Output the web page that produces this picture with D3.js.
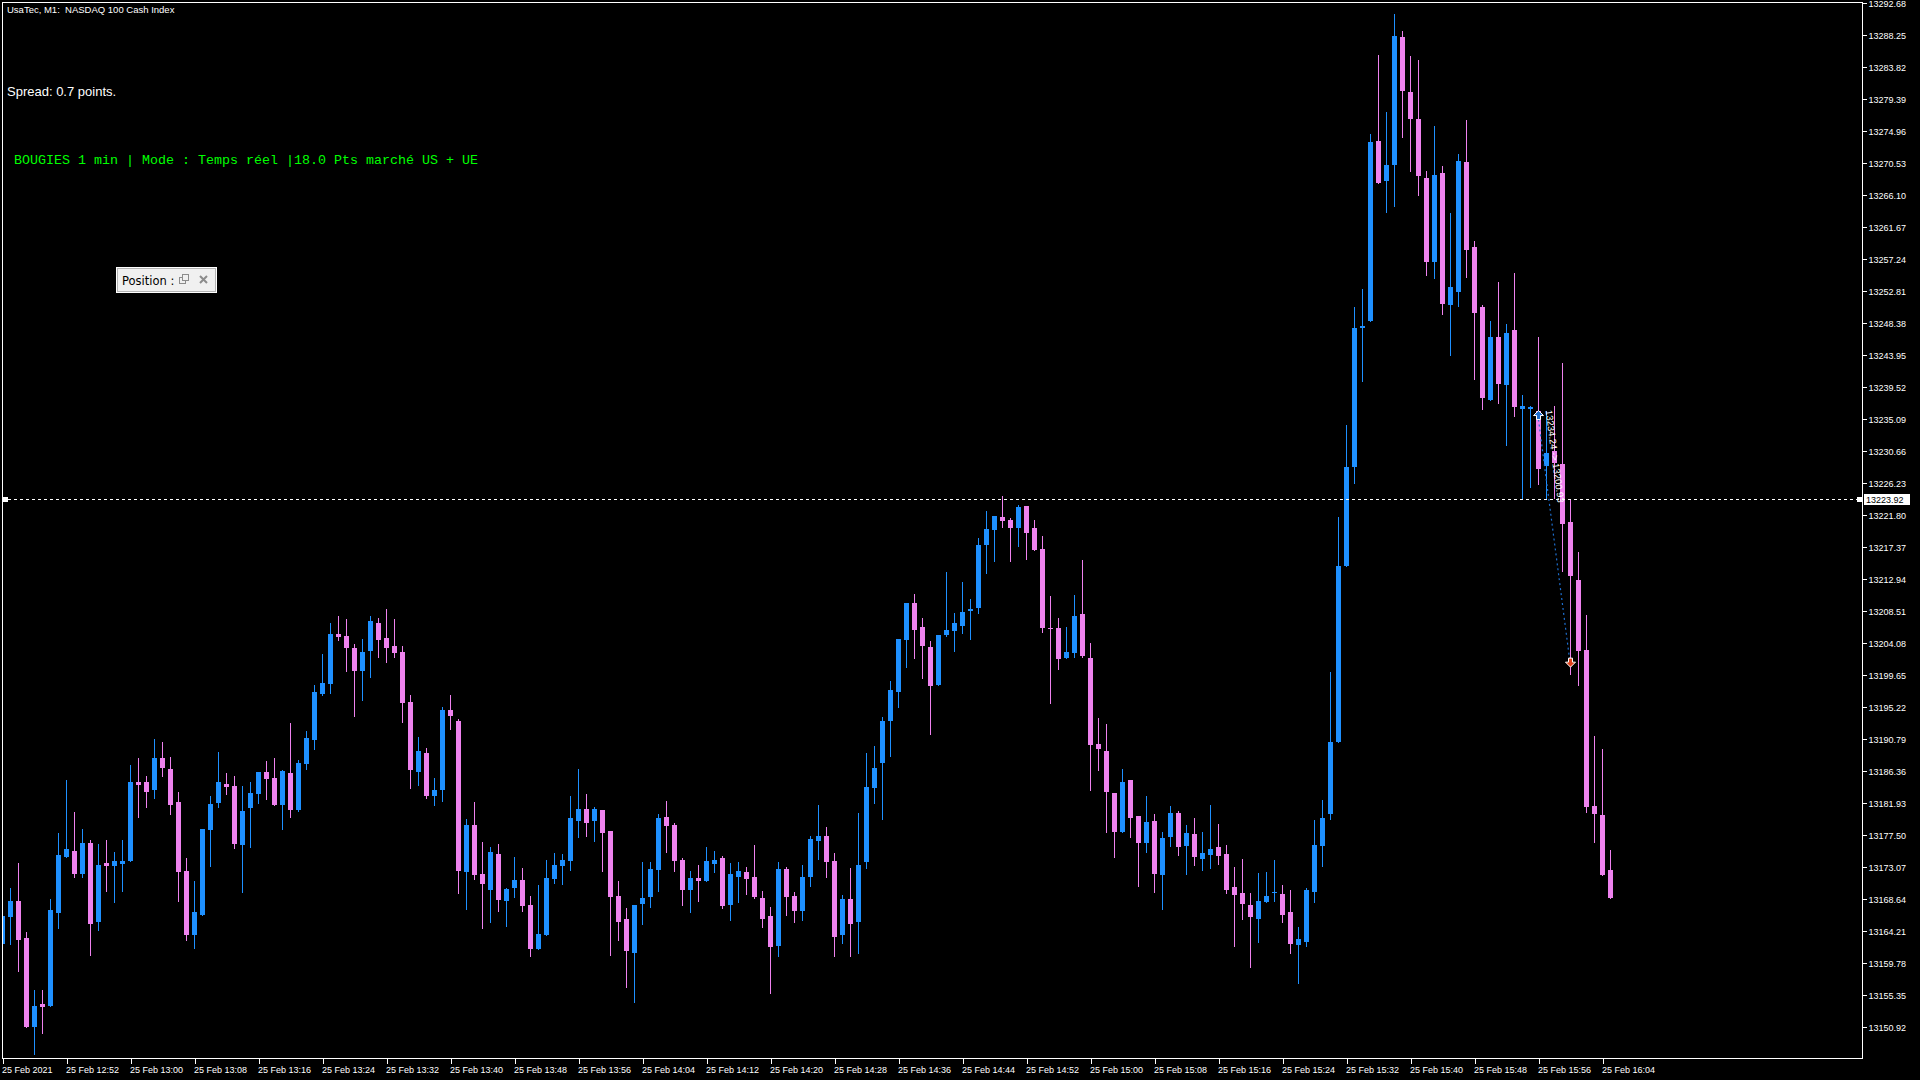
<!DOCTYPE html>
<html>
<head>
<meta charset="utf-8">
<script src="https://cdn.jsdelivr.net/npm/d3@7"></script>
<style>
html,body{margin:0;padding:0;background:#000;overflow:hidden}
svg{display:block}
</style>
</head>
<body>
<script>
// UsaTec M1 candles, 25 Feb 2021 12:44 -> 16:05
var opens=[
13162.47,13166.21,13168.42,13163.30,13151.02,13154.16,13153.89,13166.76,13174.56,13175.34,
13172.16,13176.45,13165.51,13173.68,13173.27,13173.54,13173.96,13184.90,13184.90,13183.79,
13188.22,13186.70,13182.13,13172.58,13163.72,13166.48,13178.25,13181.99,13184.62,13184.34,
13176.17,13181.30,13183.24,13186.28,13185.45,13181.71,13186.14,13181.01,13187.38,13190.70,
13197.07,13198.46,13205.38,13205.10,13203.44,13200.26,13203.03,13206.90,13204.82,13203.72,
13202.89,13195.96,13186.27,13188.90,13182.95,13183.78,13194.86,13193.33,13172.43,13178.94,
13172.15,13169.94,13174.92,13168.41,13170.21,13171.32,13167.86,13161.77,13163.71,13171.47,
13173.27,13173.96,13179.50,13181.16,13179.50,13181.02,13178.11,13169.11,13165.93,13161.22,
13168.01,13168.97,13172.71,13180.05,13178.94,13174.10,13169.94,13171.60,13171.19,13173.54,
13174.37,13167.87,13171.74,13172.44,13171.74,13168.84,13166.34,13162.19,13172.85,13169.11,
13167.04,13171.74,13176.73,13177.42,13173.95,13163.71,13168.69,13165.51,13173.82,13184.06,
13187.52,13193.34,13197.35,13204.55,13209.67,13206.35,13203.58,13198.32,13205.24,13205.80,
13206.49,13208.56,13208.98,13217.70,13219.78,13221.58,13221.16,13220.05,13223.10,13220.05,
13217.15,13206.21,13206.21,13202.06,13202.75,13208.15,13202.05,13190.15,13189.18,13183.36,
13177.96,13185.16,13180.18,13176.44,13179.49,13172.01,13177.27,13180.60,13176.03,13177.69,
13174.23,13174.78,13175.89,13174.92,13170.35,13169.52,13167.86,13165.92,13168.27,13169.52,
13169.38,13166.89,13162.32,13162.74,13169.66,13176.03,13180.46,13190.43,13214.74,13228.44,
13247.71,13248.77,13273.70,13268.04,13270.25,13288.02,13280.42,13276.62,13268.57,13256.91,
13269.19,13250.98,13252.66,13270.70,13258.94,13250.63,13237.81,13246.47,13239.84,13247.45,
13236.57,13236.48,13236.31,13228.62,13230.65,13228.97,13220.84,13212.88,13203.16,13181.59,
13180.35,13172.66];
var highs=[
13166.60,13170.22,13173.68,13164.13,13156.10,13156.10,13168.70,13177.84,13185.17,13180.74,
13178.39,13176.87,13176.31,13176.87,13175.21,13176.87,13187.25,13188.22,13185.73,13190.85,
13190.43,13188.36,13183.51,13174.38,13171.19,13178.39,13182.96,13189.05,13186.14,13185.73,
13184.34,13184.90,13186.28,13187.80,13188.22,13186.55,13193.06,13187.94,13191.95,13198.32,
13202.61,13206.90,13207.87,13207.46,13203.99,13204.69,13207.87,13207.59,13208.84,13207.46,
13203.72,13196.93,13191.12,13189.60,13185.44,13195.27,13196.93,13193.61,13179.77,13182.12,
13176.58,13175.89,13176.31,13170.21,13174.51,13172.98,13169.11,13170.63,13174.09,13175.07,
13174.93,13182.96,13186.69,13183.23,13181.43,13181.02,13178.11,13171.19,13167.45,13167.87,
13173.82,13173.82,13180.46,13182.26,13179.22,13174.37,13172.57,13173.41,13175.90,13175.34,
13174.65,13173.68,13173.82,13173.13,13176.17,13169.81,13167.59,13173.82,13173.13,13169.67,
13173.40,13177.42,13181.71,13178.66,13175.06,13169.25,13172.98,13180.60,13188.91,13189.87,
13193.89,13198.87,13204.69,13209.67,13210.92,13207.60,13204.41,13205.24,13213.96,13208.29,
13212.58,13210.23,13218.67,13222.41,13221.72,13224.48,13221.44,13223.24,13223.10,13221.16,
13218.95,13210.64,13207.60,13206.35,13210.78,13215.62,13204.13,13193.75,13192.92,13183.36,
13186.69,13185.16,13180.18,13182.95,13180.46,13177.96,13181.56,13180.87,13178.93,13179.90,
13177.96,13181.70,13179.07,13176.17,13173.12,13174.23,13169.52,13172.29,13172.43,13174.09,
13170.63,13169.94,13164.81,13170.21,13179.63,13182.40,13200.12,13221.63,13234.36,13250.63,
13253.19,13274.59,13285.55,13277.59,13291.21,13288.82,13285.37,13284.84,13269.46,13275.65,
13270.17,13263.62,13271.85,13276.53,13259.73,13250.90,13248.68,13254.17,13248.24,13255.31,
13238.43,13236.93,13246.47,13236.31,13236.93,13242.85,13224.02,13216.77,13208.02,13191.31,
13189.45,13175.49];
var lows=[
13162.20,13162.47,13158.73,13151.02,13147.29,13150.19,13153.89,13164.68,13174.56,13171.79,
13171.79,13160.95,13164.41,13169.81,13168.28,13169.81,13173.96,13180.05,13181.44,13182.68,
13185.73,13180.47,13168.42,13163.02,13161.92,13166.48,13173.27,13181.44,13183.24,13175.76,
13169.67,13175.90,13181.99,13182.54,13181.71,13178.38,13180.04,13180.87,13186.69,13189.46,
13196.93,13197.21,13204.55,13200.26,13194.03,13196.24,13199.43,13202.19,13201.50,13202.19,
13193.20,13184.06,13184.47,13182.67,13181.71,13182.26,13192.23,13169.52,13167.31,13171.46,
13164.68,13165.51,13167.03,13164.95,13168.97,13167.03,13160.80,13161.77,13163.71,13170.91,
13170.77,13172.71,13177.28,13177.42,13176.73,13172.57,13160.95,13163.02,13156.52,13154.44,
13165.24,13167.59,13169.81,13175.20,13172.57,13167.87,13166.90,13168.42,13171.19,13172.44,
13167.45,13165.79,13168.28,13169.39,13168.84,13164.82,13155.68,13160.81,13166.48,13165.51,
13165.79,13170.50,13174.24,13171.74,13160.80,13162.60,13160.80,13161.22,13172.98,13181.98,
13179.77,13188.49,13195.27,13200.81,13202.06,13199.29,13191.54,13198.32,13205.10,13203.03,
13205.52,13204.69,13208.29,13213.83,13215.49,13220.19,13215.49,13217.56,13215.76,13217.01,
13205.66,13195.83,13200.53,13202.06,13202.20,13202.20,13183.78,13186.55,13177.96,13174.50,
13177.96,13177.27,13170.49,13175.20,13169.66,13167.30,13176.03,13174.78,13172.15,13173.40,
13172.70,13172.98,13173.53,13169.52,13162.18,13165.92,13159.28,13162.74,13168.27,13168.41,
13165.51,13161.21,13157.06,13162.18,13168.27,13173.26,13179.76,13190.43,13214.74,13226.23,
13240.46,13248.77,13267.78,13263.80,13264.60,13274.14,13269.46,13266.10,13255.05,13254.61,
13249.74,13244.00,13250.81,13254.87,13240.73,13236.57,13237.72,13237.37,13231.53,13235.60,
13224.11,13225.70,13226.14,13224.20,13224.20,13214.12,13199.89,13198.38,13180.79,13176.64,
13171.95,13168.77];
var closes=[
13166.35,13168.42,13163.02,13151.02,13153.89,13153.79,13167.18,13174.79,13175.62,13172.16,
13176.45,13165.24,13173.41,13173.27,13173.96,13173.96,13184.90,13184.48,13183.51,13188.22,
13186.83,13181.71,13172.44,13163.72,13166.90,13178.39,13181.85,13184.90,13184.20,13176.31,
13180.88,13183.37,13186.28,13185.31,13181.71,13186.41,13181.01,13187.52,13190.98,13197.35,
13198.60,13205.38,13204.96,13203.44,13200.26,13202.89,13207.18,13204.55,13203.44,13202.75,
13195.83,13186.55,13189.18,13182.95,13183.78,13194.86,13194.03,13172.57,13178.94,13172.01,
13170.77,13175.20,13168.55,13170.08,13171.32,13167.72,13161.77,13163.85,13171.60,13173.40,
13174.10,13179.91,13181.16,13179.22,13181.16,13177.83,13168.97,13165.51,13161.50,13167.87,
13168.84,13172.85,13179.91,13178.80,13173.96,13169.94,13171.60,13171.19,13173.96,13174.10,
13167.73,13172.16,13172.57,13171.47,13168.97,13165.93,13162.05,13172.85,13168.97,13167.04,
13171.74,13177.00,13177.42,13173.82,13163.43,13168.69,13165.23,13173.40,13184.20,13186.83,
13193.34,13197.63,13204.69,13209.67,13205.93,13203.72,13198.18,13205.24,13205.93,13206.90,
13208.43,13208.84,13217.70,13219.92,13221.72,13221.02,13220.05,13222.96,13219.36,13217.01,
13206.21,13206.07,13201.92,13202.89,13207.87,13202.33,13190.01,13189.46,13183.50,13177.96,
13184.89,13179.90,13176.44,13179.35,13172.15,13177.13,13180.60,13175.89,13177.83,13174.50,
13175.06,13175.61,13174.64,13169.94,13169.24,13168.00,13166.20,13168.41,13169.10,13169.66,
13166.47,13162.46,13163.15,13169.94,13176.17,13179.90,13190.42,13214.83,13228.53,13247.71,
13247.98,13273.44,13267.78,13270.25,13288.20,13280.60,13276.71,13268.84,13256.91,13268.93,
13251.07,13253.37,13270.87,13258.58,13249.83,13238.08,13246.56,13240.02,13247.09,13236.84,
13236.93,13236.75,13228.26,13230.38,13229.06,13220.57,13213.41,13202.98,13181.50,13180.53,
13171.95,13168.77];

var priceTicks=[13292.68,13288.25,13283.82,13279.39,13274.96,13270.53,13266.10,13261.67,13257.24,
13252.81,13248.38,13243.95,13239.52,13235.09,13230.66,13226.23,13221.80,13217.37,13212.94,13208.51,
13204.08,13199.65,13195.22,13190.79,13186.36,13181.93,13177.50,13173.07,13168.64,13164.21,13159.78,
13155.35,13150.92];
var timeLabels=["25 Feb 2021","25 Feb 12:52","25 Feb 13:00","25 Feb 13:08","25 Feb 13:16","25 Feb 13:24",
"25 Feb 13:32","25 Feb 13:40","25 Feb 13:48","25 Feb 13:56","25 Feb 14:04","25 Feb 14:12","25 Feb 14:20",
"25 Feb 14:28","25 Feb 14:36","25 Feb 14:44","25 Feb 14:52","25 Feb 15:00","25 Feb 15:08","25 Feb 15:16",
"25 Feb 15:24","25 Feb 15:32","25 Feb 15:40","25 Feb 15:48","25 Feb 15:56","25 Feb 16:04"];
var bidPrice=13223.92;
var tradePrices=[13234.24,13200.93];
var tradeBars=[192,196];

var bull="#1e90ff", bear="#ee82ee";
var L=2.5, T=2.5, R=1862.5, B=1058.5;

var svg=d3.select("body").append("svg")
    .attr("width",1920).attr("height",1080)
    .style("background","#000");

var start=new Date(2021,1,25,12,44);
var times=opens.map(function(d,i){return d3.timeMinute.offset(start,i);});
var x=d3.scaleTime()
    .domain([start,times[times.length-1]])
    .range([2.5,2.5+8*(times.length-1)]);
var y=d3.scaleLinear().domain([13150.92,13292.68]).range([1027.4,3.4]);

svg.append("clipPath").attr("id","plot")
  .append("rect").attr("x",L).attr("y",T).attr("width",R-L).attr("height",B-T);

var g=svg.append("g").attr("clip-path","url(#plot)").attr("shape-rendering","crispEdges");

// candles
var idx=d3.range(opens.length);
var c=g.selectAll("g.c").data(idx).enter().append("g").attr("class","c");
c.append("line")
  .attr("x1",function(i){return x(times[i]);})
  .attr("x2",function(i){return x(times[i]);})
  .attr("y1",function(i){return Math.round(y(highs[i]));})
  .attr("y2",function(i){return Math.round(y(lows[i]))+1;})
  .attr("stroke",function(i){return closes[i]>=opens[i]?bull:bear;})
  .attr("stroke-width",1);
c.append("rect")
  .attr("x",function(i){return x(times[i])-2.5;})
  .attr("width",5)
  .attr("y",function(i){return Math.round(y(Math.max(opens[i],closes[i])));})
  .attr("height",function(i){
      return Math.max(1,Math.round(y(Math.min(opens[i],closes[i])))-Math.round(y(Math.max(opens[i],closes[i]))));})
  .attr("fill",function(i){return closes[i]>=opens[i]?bull:bear;});

// bid line
var by=Math.round(y(bidPrice))-0.5;
g.append("line").attr("x1",8).attr("x2",1857).attr("y1",by).attr("y2",by)
  .attr("stroke","#fff").attr("stroke-dasharray","3,3");
svg.append("rect").attr("x",2).attr("y",by-2.5).attr("width",6).attr("height",5).attr("fill","#fff");
svg.append("rect").attr("x",1857).attr("y",by-2.5).attr("width",5).attr("height",5).attr("fill","#fff");

// trade history
var p1=[x(times[tradeBars[0]]),y(tradePrices[0])], p2=[x(times[tradeBars[1]]),y(tradePrices[1])];
svg.append("line").attr("x1",p1[0]).attr("y1",p1[1]-6).attr("x2",p2[0]).attr("y2",p2[1])
  .attr("stroke","#1e6fd0").attr("stroke-width",1.2).attr("stroke-dasharray","2,3");
var ang=Math.atan2(p2[1]-p1[1],p2[0]-p1[0])*180/Math.PI;
svg.append("text").attr("transform","translate("+(p1[0]+7)+","+(p1[1]-15)+") rotate("+ang+")")
  .attr("fill","#fff").attr("font-family","Liberation Sans, Arial, sans-serif").attr("font-size","9.5px")
  .text(tradePrices[0].toFixed(2)+" -> "+tradePrices[1].toFixed(2));
svg.append("path")
  .attr("d","M0,-5L5,0L2,0L2,4L-2,4L-2,0L-5,0Z")
  .attr("transform","translate("+p1[0]+","+(p1[1]-10)+")")
  .attr("fill","#1e6fd0").attr("stroke","#fff").attr("stroke-width",1);
svg.append("path")
  .attr("d","M0,5L5,0L2,0L2,-4L-2,-4L-2,0L-5,0Z")
  .attr("transform","translate("+(p2[0])+","+(p2[1]-4)+")")
  .attr("fill","#e0401a").attr("stroke","#fff").attr("stroke-width",1);

// frame
svg.append("rect").attr("x",L).attr("y",T).attr("width",R-L).attr("height",B-T)
  .attr("fill","none").attr("stroke","#fff").attr("stroke-width",1).attr("shape-rendering","crispEdges");

// price axis
var yAxis=d3.axisRight(y).tickValues(priceTicks).tickFormat(d3.format(".2f")).tickSize(4).tickPadding(2);
var ya=svg.append("g").attr("transform","translate("+R+",0)").call(yAxis);
ya.select(".domain").remove();
ya.selectAll("line").attr("stroke","#fff").attr("shape-rendering","crispEdges");
ya.selectAll("text").attr("fill","#fff").style("font-family","Liberation Sans, Arial, sans-serif").style("font-size","9px");

// current price label
svg.append("rect").attr("x",1864).attr("y",by-5.5).attr("width",46).attr("height",11).attr("fill","#fff");
svg.append("text").attr("x",1866).attr("y",by+3.5).attr("fill","#000")
  .style("font-family","Liberation Sans, Arial, sans-serif").style("font-size","9px")
  .text(bidPrice.toFixed(2));

// time axis
var tickTimes=timeLabels.map(function(d,k){return times[k*8];});
var xAxis=d3.axisBottom(x).tickValues(tickTimes)
  .tickFormat(function(d,k){return timeLabels[k];}).tickSize(5).tickPadding(3);
var xa=svg.append("g").attr("transform","translate(0,"+B+")").call(xAxis);
xa.select(".domain").remove();
xa.selectAll("line").attr("stroke","#fff").attr("shape-rendering","crispEdges");
xa.selectAll("text").attr("fill","#fff").attr("text-anchor","start").attr("dx","-1")
  .style("font-family","Liberation Sans, Arial, sans-serif").style("font-size","9px");

// chart texts
svg.append("text").attr("x",7).attr("y",13).attr("fill","#fff")
  .style("font-family","Liberation Sans, Arial, sans-serif").style("font-size","9.5px")
  .style("white-space","pre")
  .text("UsaTec, M1:  NASDAQ 100 Cash Index");
svg.append("text").attr("x",7).attr("y",96).attr("fill","#fff")
  .style("font-family","Liberation Sans, Arial, sans-serif").style("font-size","13px")
  .text("Spread: 0.7 points.");
svg.append("text").attr("x",14).attr("y",164).attr("fill","#00ff00")
  .style("font-family","Liberation Mono, Courier New, monospace").style("font-size","13.33px")
  .text("BOUGIES 1 min | Mode : Temps réel |18.0 Pts marché US + UE");

// position panel
var pb=svg.append("g").attr("transform","translate(116,267)");
pb.append("rect").attr("x",0.5).attr("y",0.5).attr("width",100).attr("height",25)
  .attr("fill","#f0f0f0").attr("stroke","#fff");
pb.append("rect").attr("x",1.5).attr("y",1.5).attr("width",98).attr("height",23)
  .attr("fill","none").attr("stroke","#b4b4b4");
pb.append("text").attr("x",6).attr("y",18).attr("fill","#000")
  .style("font-family","DejaVu Sans, Arial, sans-serif").style("font-size","11.5px")
  .text("Position :");
pb.append("rect").attr("x",63.5).attr("y",10.5).attr("width",6).attr("height",6)
  .attr("fill","none").attr("stroke","#8c8c8c");
pb.append("rect").attr("x",66.5).attr("y",7.5).attr("width",6).attr("height",6)
  .attr("fill","#f0f0f0").attr("stroke","#8c8c8c");
pb.append("path").attr("d","M84,9L91,16M91,9L84,16").attr("stroke","#8c8c8c").attr("stroke-width",2);
</script>
</body>
</html>
